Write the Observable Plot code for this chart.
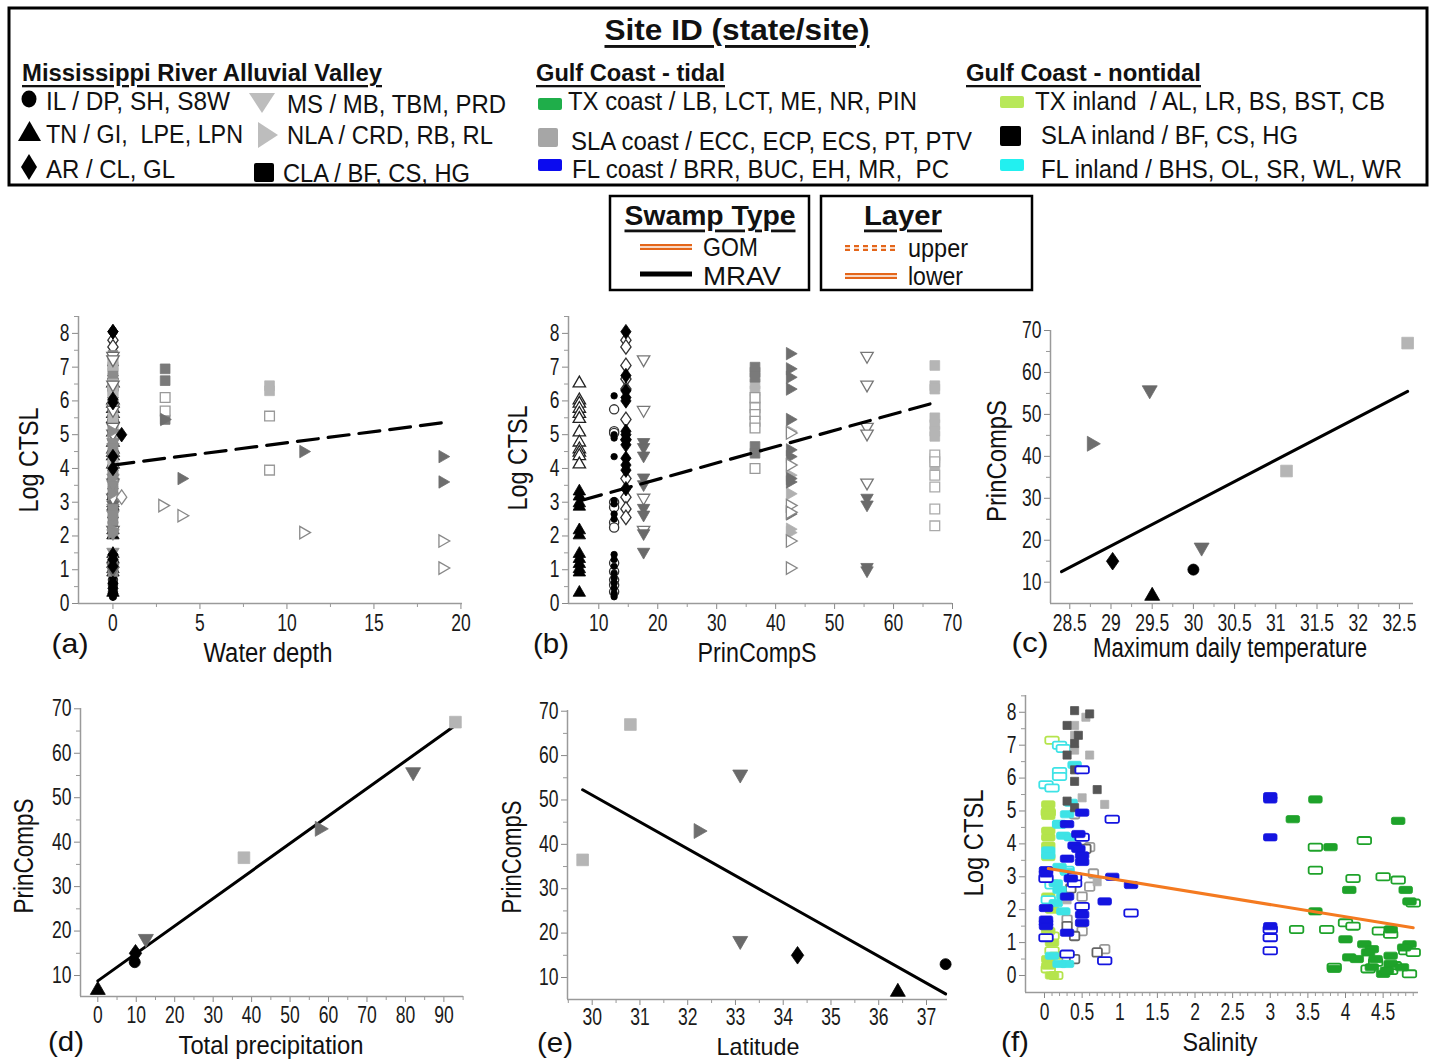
<!DOCTYPE html>
<html><head><meta charset="utf-8">
<script src="https://cdn.jsdelivr.net/npm/d3@7"></script>
<script src="https://cdn.jsdelivr.net/npm/@observablehq/plot@0.6"></script>
<style>
body{margin:0;background:#fff;}
#root{position:relative;width:1430px;height:1059px;overflow:hidden;}
</style></head><body><div id="root"></div>
<script>
const FONT = '"Liberation Sans",Arial,sans-serif';

// ---------- Panel (b): Log CTSL by PrinCompS (column position = site PrinCompS) ----------
const pcTN = 6.7, pcIL = 12.6, pcAR = 14.6, pcMS1 = 17.6, pcSQ1 = 36.5, pcNLA = 42.6, pcMS2 = 55.5, pcSQ2 = 67;
const tnOpen = [6.55,6.05,5.95,5.8,5.65,5.5,5.1,4.8,4.6,4.5,4.4,4.15];
const tnFill = [3.35,3.2,3.0,2.9,2.2,2.05,1.5,1.35,1.2,1.05,0.95,0.35];
const ilFill = [6.15,5.0,4.9,4.35,3.05,2.95,2.65,2.5,1.45,1.3,1.1,0.9,0.75,0.6,0.45,0.3,0.2];
const ilOpen = [5.75,5.1,5.05,3.0,2.85,2.4,2.25,1.2,0.95,0.7,0.55,0.35];
const arFill = [8.05,6.75,6.3,6.1,6.0,5.1,5.0,4.85,4.7,4.3,4.1,3.95,3.4];
const arOpen = [7.8,7.6,7.05,6.65,6.35,5.45,4.85,3.7,3.15,2.8,2.55];
const ms1Fill = [4.75,4.6,4.35,3.7,3.5,2.8,2.6,2.05,1.5];
const ms1Open = [7.2,5.7,3.1,2.15];
const sq1Dark = [7.0,6.85,6.7,4.65,4.45];
const sq1Light = [6.5,6.3,6.05,5.85];
const sq1Open = [6.1,5.8,5.6,5.4,5.2,4.0];
const nlaDark = [7.4,6.95,6.7,6.35,5.45,4.55,4.35,3.7,3.6,2.65];
const nlaLight = [5.1,3.8,3.25,2.2,2.1];
const nlaOpen = [5.05,4.1,2.9,2.7,1.85,1.05];
const ms2Fill = [3.1,2.9,1.05,0.95];
const ms2Open = [7.3,6.45,5.2,5.0,3.55];
const sq2Fill = [7.05,6.45,6.35,5.5,5.3,5.1,4.95,4.3,4.1];
const sq2Open = [4.4,4.2,3.8,3.45,2.8,2.3];
const bTrend = [[7,3.05],[67,5.95]];

// ---------- Panel (a): Log CTSL by water depth ----------
const depthZero = 0;
const aZeroGray = [7.35,7.2,7.0,6.85,6.7,6.55,6.4,6.25,5.9,5.6,5.45,5.25,5.0,4.8,4.6,4.45,4.25,3.95,3.8,3.65,3.5,3.35,3.1,2.9,2.7,2.5,2.3,2.15,1.25,1.05,0.95];
const aZeroBlack = [8.05,6.05,5.95,4.35,4.0,1.45,1.3,1.1,0.6,0.45,0.3];
const aArExtraFill = [[0.5,5.0]];
const aArExtraOpen = [[0.5,3.15]];
const aSqDark = [[3,6.95],[3,6.6],[3,5.45]];
const aSqOpen = [[3,6.1],[3,5.7],[9,5.55],[9,3.95]];
const aSqLight = [[9,6.45],[9,6.3]];
const aNlaFill = [[3,5.45],[4,3.7],[11,4.5],[19,4.35],[19,3.6]];
const aNlaOpen = [[2.9,2.9],[4,2.6],[11,2.1],[19,1.85],[19,1.05]];
const aTrend = [[0,4.1],[18.9,5.35]];

// ---------- Panels (c)-(e): site-level PrinCompS ----------
const siteIds  = ["IL","TN","AR","MS-a","MS-b","NLA","SLA-a","SLA-b"];
const sitePC   = [13, 7, 15, 18, 55.5, 43, 36.5, 67];
const siteTemp = [30.0, 29.5, 29.02, 30.1, 29.47, 28.78, 31.13, 32.6];
const sitePrec = [9.6, 0, 9.8, 12.5, 82, 58, 38, 93];
const siteLat  = [37.4, 36.4, 34.3, 33.1, 33.1, 32.25, 29.8, 30.8];
const cTrend = [[28.4,12.5],[32.6,55.5]];
const dTrend = [[0,8.8],[93,66.3]];
const eTrend = [[29.8,52.3],[37.4,6.3]];

// ---------- Panel (f): Log CTSL by salinity (GOM sites) ----------
const flCoastFill = [[0.02,3.2],[0.02,3.1],[0.02,2.05],[0.02,1.7],[0.02,1.6],[0.02,1.5],[0.3,4.6],[0.3,3.55],[0.3,2.4],[0.3,1.3],[0.4,3.95],[0.45,3.85],[0.5,3.65],[0.5,3.45],[0.5,4.95],[0.5,1.85],[0.5,1.6],[0.45,4.3],[0.8,2.25],[0.9,3.0],[1.15,2.75],[3.0,5.45],[3.0,5.35],[3.0,4.2],[3.0,1.5],[0.35,2.95]];
const flCoastOpen = [[0.02,2.95],[0.02,1.15],[0.5,6.25],[0.5,2.1],[0.3,0.65],[0.4,2.8],[0.9,4.75],[1.15,1.9],[0.8,0.45],[3.0,1.4],[3.0,1.15],[3.0,0.75],[0.5,4.2],[0.4,3.0]];
const txCoastFill = [[3.3,4.75],[3.6,5.35],[3.8,3.9],[3.6,1.95],[4.0,1.1],[4.05,2.6],[3.85,0.2],[4.05,0.55],[4.15,0.5],[4.25,0.95],[4.35,0.8],[4.3,0.7],[4.4,0.5],[4.5,0.05],[4.6,0.6],[4.6,0.35],[4.6,1.4],[4.7,4.7],[4.8,2.6],[4.85,2.25],[4.85,0.95],[4.78,0.85],[4.75,0.25],[4.35,0.25],[4.55,0.15]];
const txCoastOpen = [[3.35,1.4],[3.6,3.9],[3.6,3.2],[3.75,1.4],[3.85,0.25],[4.0,1.6],[4.1,2.95],[4.1,1.5],[4.25,4.1],[4.3,0.2],[4.45,1.35],[4.5,3.0],[4.6,1.25],[4.6,0.15],[4.7,2.9],[4.8,0.75],[4.85,0.05],[4.9,2.2],[4.9,0.7],[4.4,0.4],[4.65,0.3]];
const txInlandFill = [[0.05,5.2],[0.05,5.0],[0.05,4.85],[0.05,4.4],[0.05,4.2],[0.05,3.95],[0.05,3.6],[0.05,2.4],[0.05,1.35],[0.1,1.0],[0.05,0.5],[0.05,0.3],[0.1,0.0],[0.15,0.6],[0.1,2.8],[0.1,2.0]];
const txInlandOpen = [[0.1,7.15],[0.05,4.95],[0.1,0.75],[0.05,0.2],[0.15,0.0],[0.1,1.2]];
const flInlandFill = [[0.4,6.4],[0.35,5.25],[0.3,4.9],[0.2,4.6],[0.25,4.25],[0.35,4.2],[0.05,3.8],[0.05,3.65],[0.2,3.3],[0.3,3.15],[0.15,2.8],[0.2,2.6],[0.25,2.4],[0.15,2.2],[0.25,1.95],[0.3,0.35],[0.2,0.35],[0.1,0.6]];
const flInlandOpen = [[0.2,7.0],[0.25,6.9],[0.2,6.2],[0.2,6.05],[0.02,5.8],[0.1,5.7],[0.2,4.6],[0.1,2.75],[0.05,2.3],[0.3,3.2]];
const slaInlandFill = [[0.4,8.05],[0.6,7.95],[0.3,7.6],[0.45,7.3],[0.4,7.05],[0.3,6.7],[0.4,6.25],[0.4,5.9],[0.7,5.65],[0.3,5.3],[0.4,5.1]];
const slaInlandOpen = [[0.3,1.5],[0.4,1.2],[0.4,0.5],[0.7,0.7],[0.55,3.85],[0.35,2.65]];
const slaCoastFill = [[0.4,7.6],[0.4,7.3],[0.55,7.85],[0.4,6.85],[0.6,6.7],[0.5,5.4],[0.8,5.2],[0.3,2.3],[0.7,2.85]];
const slaCoastOpen = [[0.4,4.9],[0.6,3.9],[0.65,3.1],[0.6,2.7],[0.5,2.4],[0.3,1.7],[0.5,1.35],[0.8,0.8],[0.3,0.55]];
const fTrend = [[0.05,3.25],[4.9,1.45]];

// ---------- tick labels ----------
const ctslTicks = [0,1,2,3,4,5,6,7,8];
const depthTicks = [0,5,10,15,20];
const pcTicks = [10,20,30,40,50,60,70];
const pcYTicks = [10,20,30,40,50,60,70];
const tempTicks = [28.5,29,29.5,30,30.5,31,31.5,32,32.5];
const precTicks = [0,10,20,30,40,50,60,70,80,90];
const latTicks = [30,31,32,33,34,35,36,37];
const salTicks = [0,0.5,1,1.5,2,2.5,3,3.5,4,4.5];

// ---------- colours ----------
const C = {black:"#000", ms:"#6a6a6a", gray:"#8c8c8c", nlaDark:"#6e6e6e", nlaLight:"#b0b0b0", sqDark:"#7a7a7a", sqLight:"#b5b5b5",
  flCoast:"#1414e0", txCoast:"#1ea22a", txInland:"#b5e44c", flInland:"#3ee3e6", slaInland:"#555", slaCoast:"#b0b0b0", gom:"#f47a20"};

// ---------- symbols ----------
function rrect(c, w, h, k){
  c.moveTo(-w+k,-h);c.lineTo(w-k,-h);c.arcTo(w,-h,w,-h+k,k);c.lineTo(w,h-k);c.arcTo(w,h,w-k,h,k);
  c.lineTo(-w+k,h);c.arcTo(-w,h,-w,h-k,k);c.lineTo(-w,-h+k);c.arcTo(-w,-h,-w+k,-h,k);c.closePath();
}
const sym = {
  up:{draw(c,s){const r=Math.sqrt(s/Math.PI);c.moveTo(-1.15*r,0.85*r);c.lineTo(1.15*r,0.85*r);c.lineTo(0,-1.15*r);c.closePath();}},
  down:{draw(c,s){const r=Math.sqrt(s/Math.PI);c.moveTo(-1.15*r,-0.85*r);c.lineTo(1.15*r,-0.85*r);c.lineTo(0,1.15*r);c.closePath();}},
  right:{draw(c,s){const r=Math.sqrt(s/Math.PI);c.moveTo(-0.85*r,-1.15*r);c.lineTo(1.15*r,0);c.lineTo(-0.85*r,1.15*r);c.closePath();}},
  diamond:{draw(c,s){const r=Math.sqrt(s/Math.PI);c.moveTo(0,-1.35*r);c.lineTo(0.95*r,0);c.lineTo(0,1.35*r);c.lineTo(-0.95*r,0);c.closePath();}},
  square:{draw(c,s){const r=Math.sqrt(s/Math.PI)*0.9;c.rect(-r,-r,2*r,2*r);}},
  circle:{draw(c,s){const r=Math.sqrt(s/Math.PI)*0.85;c.moveTo(r,0);c.arc(0,0,r,0,2*Math.PI);}},
  pill:{draw(c,s){const r=Math.sqrt(s/Math.PI);rrect(c, 1.35*r, 0.72*r, 0.35*r);}},
  rsq:{draw(c,s){const r=Math.sqrt(s/Math.PI);rrect(c, 0.95*r, 0.85*r, 0.3*r);}}
};

function dots(pts, symbol, color, open, r=5.4, sw=1.3){
  return Plot.dot(pts, {x:d=>d[0], y:d=>d[1], symbol, r, fill: open ? "white" : color, stroke: color, strokeWidth: open ? sw : 0.8});
}
const col = (x, ys) => ys.map(y => [x, y]);
const fmt = d3.format("~g");

const root = document.getElementById("root");

function panel(cfg, marks){
  const mL=75, mR=22, mT=22, mB=45;
  const w = cfg.R-cfg.L+mL+mR, h = cfg.B-cfg.T+mT+mB;
  const svg = Plot.plot({
    width:w, height:h, marginLeft:mL, marginRight:mR, marginTop:mT, marginBottom:mB,
    x:{domain:cfg.xd}, y:{domain:cfg.yd},
    style:{fontFamily:FONT, background:"transparent", overflow:"visible"},
    marks:[
      Plot.axisX({ticks:cfg.xm, tickSize:4, tickFormat:()=>"", label:null, stroke:"#999"}),
      Plot.axisY({ticks:cfg.ym, tickSize:4, tickFormat:()=>"", label:null, stroke:"#999"}),
      Plot.axisX({ticks:cfg.xt, tickSize:6, tickPadding:cfg.xpad ?? 5, fontSize:23, tickFormat:fmt, label:null, stroke:"#888", fill:"#1a1a1a"}),
      Plot.axisY({ticks:cfg.yt, tickSize:6, tickPadding:3, fontSize:23, tickFormat:fmt, label:null, stroke:"#888", fill:"#1a1a1a"}),
      Plot.ruleX([cfg.xd[0]], {stroke:"#9a9a9a", strokeWidth:1.5}),
      Plot.ruleY([cfg.yd[0]], {stroke:"#9a9a9a", strokeWidth:1.5}),
      ...marks
    ]
  });
  svg.style.position="absolute"; svg.style.left=(cfg.L-mL)+"px"; svg.style.top=(cfg.T-mT)+"px";
  root.appendChild(svg);
  // narrow the tick-label glyphs (Arial Narrow look)
  svg.querySelectorAll("text").forEach(t => {
    const L = t.getComputedTextLength();
    if (L > 0) { t.setAttribute("textLength", (L*0.76).toFixed(1)); t.setAttribute("lengthAdjust","spacingAndGlyphs"); }
  });
}

const halfSteps = d3.range(0.5, 8.6, 1);
// (a)
panel({L:78,R:462,T:316,B:603, xd:[-1.98,20.09], yd:[0,8.5], xt:depthTicks, xm:[2.5,7.5,12.5,17.5], yt:ctslTicks, ym:halfSteps}, [
  dots(col(depthZero, ilOpen), sym.circle, "#333", true),
  dots(col(depthZero, ilFill), sym.circle, C.black, false, 4.4),
  dots(col(depthZero, tnOpen), sym.up, "#222", true),
  dots(col(depthZero, tnFill), sym.up, C.black, false),
  dots(col(depthZero, arOpen), sym.diamond, "#333", true),
  dots(col(depthZero, arFill), sym.diamond, C.black, false),
  dots(col(depthZero, aZeroGray), sym.square, C.gray, false),
  dots(col(depthZero, sq2Fill), sym.square, C.sqLight, false),
  dots(col(depthZero, sq1Light), sym.square, C.sqLight, false),
  dots(col(depthZero, ms2Open), sym.down, C.ms, true),
  dots(col(depthZero, ms2Fill), sym.down, C.ms, false),
  dots(col(depthZero, ms1Open), sym.down, C.ms, true),
  dots(col(depthZero, ms1Fill), sym.down, C.gray, false),
  dots(col(depthZero, nlaLight), sym.right, C.gray, false),
  dots(col(depthZero, aZeroBlack), sym.diamond, C.black, false),
  dots(aArExtraFill, sym.diamond, C.black, false),
  dots(aArExtraOpen, sym.diamond, "#888", true),
  dots(aSqDark, sym.square, C.sqDark, false),
  dots(aSqOpen, sym.square, "#999", true),
  dots(aSqLight, sym.square, C.sqLight, false),
  dots(aNlaFill, sym.right, C.nlaDark, false),
  dots(aNlaOpen, sym.right, "#888", true),
  Plot.line(aTrend, {stroke:"#000", strokeWidth:3.2, strokeDasharray:"21,10"})
]);

// (b)
panel({L:568,R:952,T:316,B:603, xd:[4.86,70.0], yd:[0,8.5], xt:pcTicks, xm:[15,25,35,45,55,65], yt:ctslTicks, ym:halfSteps}, [
  dots(col(pcTN, tnOpen), sym.up, "#222", true),
  dots(col(pcTN, tnFill), sym.up, C.black, false),
  dots(col(pcIL, ilOpen), sym.circle, "#333", true),
  dots(col(pcIL, ilFill), sym.circle, C.black, false, 3.8),
  dots(col(pcAR, arOpen), sym.diamond, "#333", true),
  dots(col(pcAR, arFill), sym.diamond, C.black, false),
  dots(col(pcMS1, ms1Open), sym.down, "#777", true),
  dots(col(pcMS1, ms1Fill), sym.down, C.ms, false),
  dots(col(pcSQ1, sq1Light), sym.square, C.sqLight, false),
  dots(col(pcSQ1, sq1Dark), sym.square, C.sqDark, false),
  dots(col(pcSQ1, sq1Open), sym.square, "#999", true),
  dots(col(pcNLA, nlaLight), sym.right, C.nlaLight, false),
  dots(col(pcNLA, nlaDark), sym.right, C.nlaDark, false),
  dots(col(pcNLA, nlaOpen), sym.right, "#888", true),
  dots(col(pcMS2, ms2Open), sym.down, "#777", true),
  dots(col(pcMS2, ms2Fill), sym.down, C.ms, false),
  dots(col(pcSQ2, sq2Fill), sym.square, C.sqLight, false),
  dots(col(pcSQ2, sq2Open), sym.square, "#aaa", true),
  Plot.line(bTrend, {stroke:"#000", strokeWidth:3.2, strokeDasharray:"21,10"})
]);

// site-level marks
const siteSym = [sym.circle, sym.up, sym.diamond, sym.down, sym.down, sym.right, sym.square, sym.square];
const siteCol = [C.black, C.black, C.black, C.ms, C.ms, C.nlaDark, C.sqLight, C.sqLight];
const siteOrder = [6,7,5,3,4,0,1,2];
function siteMarks(xs){
  return siteOrder.map(i => dots([[xs[i], sitePC[i]]], siteSym[i], siteCol[i], false, 6.5));
}
const pcMinor = [15,25,35,45,55,65];
// (c)
panel({L:1050,R:1413,T:330,B:603, xd:[28.266,32.671], yd:[4.92,70], xt:tempTicks, xm:[28.75,29.25,29.75,30.25,30.75,31.25,31.75,32.25], yt:pcYTicks, ym:pcMinor}, [
  Plot.line(cTrend, {stroke:"#000", strokeWidth:3}),
  ...siteMarks(siteTemp)
]);
// (d)
panel({L:80,R:463,T:708,B:996, xd:[-4.5,95.1], yd:[5.28,70.07], xt:precTicks, xm:[5,15,25,35,45,55,65,75,85,95], yt:pcYTicks, ym:pcMinor, xpad:4}, [
  Plot.line(dTrend, {stroke:"#000", strokeWidth:3}),
  ...siteMarks(sitePrec)
]);
// (e)
panel({L:567,R:947,T:710,B:999, xd:[29.483,37.44], yd:[5.04,70.16], xt:latTicks, xm:[29.5,30.5,31.5,32.5,33.5,34.5,35.5,36.5], yt:pcYTicks, ym:pcMinor, xpad:3}, [
  Plot.line(eTrend, {stroke:"#000", strokeWidth:3}),
  ...siteMarks(siteLat)
]);
// (f)
const salMinor = d3.range(0.1, 4.95, 0.1).filter(v => Math.abs(v*2 - Math.round(v*2)) > 1e-6);
const pr = 5.0;
panel({L:1025,R:1418,T:695,B:992, xd:[-0.2525,4.97], yd:[-0.517,8.51], xt:salTicks, xm:salMinor, yt:ctslTicks, ym:halfSteps}, [
  dots(slaCoastOpen, sym.rsq, "#9a9a9a", true, pr, 1.8),
  dots(slaInlandOpen, sym.rsq, "#666", true, pr, 1.8),
  dots(txInlandOpen, sym.pill, C.txInland, true, pr, 1.8),
  dots(txInlandFill, sym.pill, C.txInland, false, pr),
  dots(flInlandOpen, sym.pill, C.flInland, true, pr, 1.8),
  dots(flInlandFill, sym.pill, C.flInland, false, pr),
  dots(slaCoastFill, sym.square, C.slaCoast, false, 4.5),
  dots(slaInlandFill, sym.square, C.slaInland, false, 4.5),
  dots(flCoastOpen, sym.pill, C.flCoast, true, pr, 1.8),
  dots(flCoastFill, sym.pill, C.flCoast, false, pr),
  dots(txCoastOpen, sym.pill, C.txCoast, true, pr, 1.8),
  dots(txCoastFill, sym.pill, C.txCoast, false, pr),
  Plot.line(fTrend, {stroke:C.gom, strokeWidth:3})
]);

// ---------- overlay: legends, axis titles, panel letters ----------
const ov = d3.create("svg").attr("width",1430).attr("height",1059)
  .style("position","absolute").style("left","0px").style("top","0px").style("pointer-events","none")
  .style("font-family", FONT);
function txt(s, x, y, w, {size=25, bold=false, anchor="start", underline=false, rotate=false}={}){
  const t = ov.append("text").text(s).attr("font-size", size).attr("fill","#111")
    .attr("dominant-baseline","central").attr("text-anchor", anchor).style("white-space","pre");
  if (bold) t.attr("font-weight","bold");
  if (underline) t.attr("text-decoration","underline");
  if (w) t.attr("textLength", w).attr("lengthAdjust","spacingAndGlyphs");
  if (rotate) t.attr("transform", `translate(${x},${y}) rotate(-90)`).attr("x",0).attr("y",0);
  else t.attr("x", x).attr("y", y);
  return t;
}
// Site ID box
ov.append("rect").attr("x",9).attr("y",8).attr("width",1418).attr("height",177).attr("fill","none").attr("stroke","#000").attr("stroke-width",3);
txt("Site ID (state/site)", 737, 30, 265, {size:29, bold:true, anchor:"middle", underline:true});
txt("Mississippi River Alluvial Valley", 22, 73, 360, {size:23, bold:true, underline:true});
txt("Gulf Coast - tidal", 536, 73, 189, {size:23, bold:true, underline:true});
txt("Gulf Coast - nontidal", 966, 73, 235, {size:23, bold:true, underline:true});
ov.append("ellipse").attr("cx",29).attr("cy",99).attr("rx",7.5).attr("ry",8.5).attr("fill","#000");
ov.append("path").attr("d","M18,141L41,141L29.5,121Z").attr("fill","#000");
ov.append("path").attr("d","M29,154L37,167L29,180L21,167Z").attr("fill","#000");
ov.append("path").attr("d","M249,93L275,93L262,113Z").attr("fill","#bdbdbd");
ov.append("path").attr("d","M258,122L278,135L258,148Z").attr("fill","#bdbdbd");
ov.append("rect").attr("x",254).attr("y",163).attr("width",20).attr("height",19).attr("rx",2).attr("fill","#000");
ov.append("rect").attr("x",538).attr("y",98).attr("width",24).attr("height",12).attr("rx",2).attr("fill","#1fae4a");
ov.append("rect").attr("x",538).attr("y",128).attr("width",20).attr("height",19).attr("rx",2).attr("fill","#a6a6a6");
ov.append("rect").attr("x",538).attr("y",159).attr("width",24).attr("height",12).attr("rx",2).attr("fill","#0b0bef");
ov.append("rect").attr("x",1000).attr("y",96).attr("width",24).attr("height",12).attr("rx",2).attr("fill","#b8e85a");
ov.append("rect").attr("x",1000).attr("y",126).attr("width",21).attr("height",20).attr("rx",2).attr("fill","#000");
ov.append("rect").attr("x",1000).attr("y",159).attr("width",24).attr("height",12).attr("rx",2).attr("fill","#22f0f0");
txt("IL / DP, SH, S8W", 46, 101, 184);
txt("TN / GI,  LPE, LPN", 46, 134, 197);
txt("AR / CL, GL", 46, 169, 129);
txt("MS / MB, TBM, PRD", 287, 104, 219);
txt("NLA / CRD, RB, RL", 287, 135, 206);
txt("CLA / BF, CS, HG", 283, 173, 187);
txt("TX coast / LB, LCT, ME, NR, PIN", 568, 101, 349);
txt("SLA coast / ECC, ECP, ECS, PT, PTV", 571, 141, 401);
txt("FL coast / BRR, BUC, EH, MR,  PC", 572, 169, 377);
txt("TX inland  / AL, LR, BS, BST, CB", 1035, 101, 350);
txt("SLA inland / BF, CS, HG", 1041, 135, 257);
txt("FL inland / BHS, OL, SR, WL, WR", 1041, 169, 361);
// Swamp type box
ov.append("rect").attr("x",610).attr("y",196).attr("width",199).attr("height",94).attr("fill","none").attr("stroke","#000").attr("stroke-width",2.5);
txt("Swamp Type", 710, 215, 171, {size:28, bold:true, anchor:"middle", underline:true});
ov.append("line").attr("x1",640).attr("x2",692).attr("y1",247).attr("y2",247).attr("stroke","#e4661a").attr("stroke-width",6);
ov.append("line").attr("x1",640).attr("x2",692).attr("y1",247).attr("y2",247).attr("stroke","#fff").attr("stroke-width",1.5);
ov.append("line").attr("x1",640).attr("x2",692).attr("y1",274).attr("y2",274).attr("stroke","#000").attr("stroke-width",5);
txt("GOM", 703, 247, 55);
txt("MRAV", 703, 276, 78);
// Layer box
ov.append("rect").attr("x",821).attr("y",196).attr("width",211).attr("height",94).attr("fill","none").attr("stroke","#000").attr("stroke-width",2.5);
txt("Layer", 903, 215, 78, {size:28, bold:true, anchor:"middle", underline:true});
ov.append("line").attr("x1",845).attr("x2",897).attr("y1",248).attr("y2",248).attr("stroke","#e4661a").attr("stroke-width",6).attr("stroke-dasharray","5,4");
ov.append("line").attr("x1",845).attr("x2",897).attr("y1",248).attr("y2",248).attr("stroke","#fff").attr("stroke-width",1.5);
ov.append("line").attr("x1",845).attr("x2",897).attr("y1",276).attr("y2",276).attr("stroke","#e4661a").attr("stroke-width",6);
ov.append("line").attr("x1",845).attr("x2",897).attr("y1",276).attr("y2",276).attr("stroke","#fff").attr("stroke-width",1.5);
txt("upper", 908, 248, 60);
txt("lower", 908, 276, 55);
// axis titles
const AT = 27;
txt("Log CTSL", 29, 460, 105, {size:AT, anchor:"middle", rotate:true});
txt("Water depth", 268, 653, 129, {size:AT, anchor:"middle"});
txt("Log CTSL", 518, 458, 105, {size:AT, anchor:"middle", rotate:true});
txt("PrinCompS", 757, 653, 119, {size:AT, anchor:"middle"});
txt("PrinCompS", 997, 461, 122, {size:AT, anchor:"middle", rotate:true});
txt("Maximum daily temperature", 1230, 648, 274, {size:AT, anchor:"middle"});
txt("PrinCompS", 24, 856, 115, {size:AT, anchor:"middle", rotate:true});
txt("Total precipitation", 271, 1045, 185, {size:25, anchor:"middle"});
txt("PrinCompS", 512, 857, 113, {size:AT, anchor:"middle", rotate:true});
txt("Latitude", 758, 1046, 83, {size:24, anchor:"middle"});
txt("Log CTSL", 974, 843, 107, {size:AT, anchor:"middle", rotate:true});
txt("Salinity", 1220, 1042, 75, {size:26, anchor:"middle"});
// panel letters
txt("(a)", 70, 643, 37, {size:28, anchor:"middle"});
txt("(b)", 551, 643, 36, {size:28, anchor:"middle"});
txt("(c)", 1030, 642, 37, {size:28, anchor:"middle"});
txt("(d)", 66, 1041, 36, {size:28, anchor:"middle"});
txt("(e)", 555, 1042, 36, {size:28, anchor:"middle"});
txt("(f)", 1015, 1041, 28, {size:28, anchor:"middle"});
root.appendChild(ov.node());
</script></body></html>
